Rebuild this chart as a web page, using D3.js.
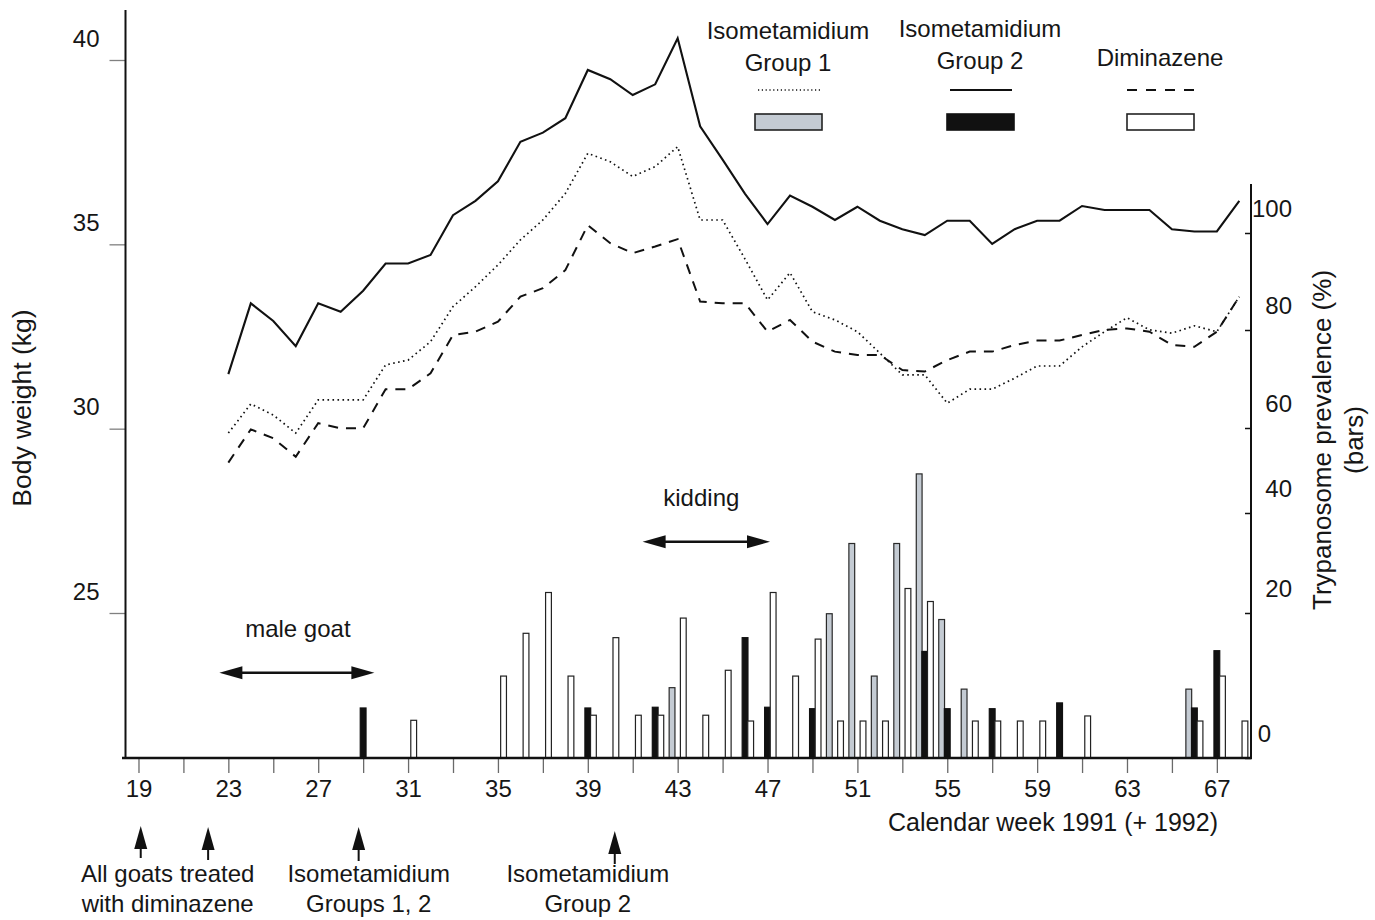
<!DOCTYPE html>
<html><head><meta charset="utf-8">
<script src="https://cdn.jsdelivr.net/npm/d3@7"></script>
<style>
body{margin:0;background:#fff}
svg{display:block}
text{font-family:"Liberation Sans",Arial,Helvetica,sans-serif;fill:#161616}
</style>
</head><body>
<svg id="chart" width="1375" height="920"></svg>
<script>
// ---------------- DATA ----------------
const lineWeeks = [23,24,25,26,27,28,29,30,31,32,33,34,35,36,37,38,39,40,41,42,43,44,45,46,47,48,49,50,51,52,53,54,55,56,57,58,59,60,61,62,63,64,65,66,67,68];
// Body weight (kg) – Isometamidium Group 1 (dotted)
const weightGroup1 = [29.88,30.67,30.37,29.88,30.78,30.78,30.78,31.73,31.86,32.36,33.31,33.85,34.44,35.12,35.66,36.38,37.47,37.24,36.84,37.11,37.65,35.66,35.66,34.6,33.49,34.23,33.17,32.95,32.63,32.05,31.46,31.46,30.69,31.07,31.07,31.37,31.70,31.70,32.22,32.63,33.01,32.68,32.59,32.79,32.63,33.58];
// Body weight (kg) – Isometamidium Group 2 (solid)
const weightGroup2 = [31.48,33.40,32.92,32.24,33.40,33.17,33.74,34.48,34.48,34.71,35.79,36.18,36.71,37.78,38.03,38.42,39.73,39.48,39.05,39.34,40.59,38.2,37.3,36.37,35.55,36.32,36.02,35.66,36.02,35.64,35.41,35.25,35.64,35.64,35.01,35.41,35.64,35.64,36.04,35.93,35.93,35.93,35.41,35.35,35.35,36.18];
// Body weight (kg) – Diminazene (dashed)
const weightDiminazene = [29.08,29.98,29.74,29.24,30.15,30.01,30.01,31.07,31.07,31.50,32.54,32.63,32.90,33.58,33.81,34.30,35.52,35.03,34.76,34.94,35.14,33.45,33.40,33.40,32.63,32.95,32.36,32.09,32.00,32.00,31.59,31.55,31.86,32.09,32.09,32.27,32.39,32.39,32.54,32.68,32.72,32.63,32.27,32.22,32.63,33.58];

// Trypanosome prevalence (%) bars: [week, value]
const barsGroup1 = [[43,9.7],[50,19.9],[51,33.9],[52,11.3],[53,33.9],[54,49.2],[55,19.1],[56,9.5],[66,9.5]];
const barsGroup2 = [[29,6.9],[39,6.9],[42,7.0],[46,16.6],[47,7.0],[49,6.8],[54,14.7],[55,6.8],[57,6.8],[60,7.6],[66,6.9],[67,14.8]];
const barsDiminazene = [[31,5.2],[35,11.3],[36,17.2],[37,24.1],[38,11.3],[39,5.9],[40,16.6],[41,5.9],[42,5.9],[43,19.3],[44,5.9],[45,12.1],[46,5.1],[47,24.1],[48,11.3],[49,16.4],[50,5.1],[51,5.1],[52,5.1],[53,24.9],[54,22.3],[56,5.1],[57,5.1],[58,5.1],[59,5.1],[61,5.8],[66,5.1],[67,11.3],[68,5.1]];

const weightTicks = [25,30,35,40];
const prevalenceTicks = [0,20,40,60,80,100];
const weekTicks = [19,21,23,25,27,29,31,33,35,37,39,41,43,45,47,49,51,53,55,57,59,61,63,65,67];
const weekLabels = [19,23,27,31,35,39,43,47,51,55,59,63,67];

const legendItems = [
  {lines:["Isometamidium","Group 1"], dash:"dot", fill:"#c4cbd3"},
  {lines:["Isometamidium","Group 2"], dash:"solid", fill:"#111111"},
  {lines:["Diminazene"], dash:"dash", fill:"#ffffff"}
];
const treatmentArrows = [19.1, 22.1, 28.8, 40.2];
const treatmentNotes = [
  {week:20.3, lines:["All goats treated","with diminazene"]},
  {week:29.25, lines:["Isometamidium","Groups 1, 2"]},
  {week:39.0, lines:["Isometamidium","Group 2"]}
];
const periods = [
  {label:"male goat", from:22.6, to:29.5},
  {label:"kidding", from:41.44, to:47.11}
];

// ---------------- SCALES ----------------
const svg = d3.select("#chart");
const x = d3.scaleLinear().domain([18.4, 68.52]).range([125, 1251]);
const yL = d3.scaleLinear().domain([25, 40]).range([613, 60]);
// right axis as drawn in the figure (tick spacing is uneven)
const yR = d3.scaleLinear().domain(prevalenceTicks).range([758, 613, 513, 428, 330, 233]);
const base = 758;

// ---------------- BARS ----------------
const barW = 5.8;
const barSeries = [
  {data:barsGroup1, off:-0.25, fill:"#c4cbd3", stroke:"#2a2a2a"},
  {data:barsGroup2, off:0, fill:"#111111", stroke:"#111111"},
  {data:barsDiminazene, off:0.25, fill:"#ffffff", stroke:"#222222"}
];
const gBars = svg.append("g");
barSeries.forEach(s => {
  gBars.selectAll(null).data(s.data).enter().append("rect")
    .attr("x", d => x(d[0] + s.off) - barW/2)
    .attr("y", d => yR(d[1]))
    .attr("width", barW)
    .attr("height", d => base - yR(d[1]))
    .attr("fill", s.fill).attr("stroke", s.stroke).attr("stroke-width", 1.2);
});

// ---------------- AXES ----------------
// left
const gL = svg.append("g").attr("transform","translate(125.5,0)")
  .call(d3.axisLeft(yL).tickValues(weightTicks).tickSize(16).tickFormat(d3.format("d")));
gL.attr("font-size",24).attr("font-family",null);
gL.select(".domain").remove();
gL.selectAll(".tick line").attr("stroke","#808080").attr("stroke-width",1.3);
gL.selectAll(".tick text").attr("x",-26).attr("dy",null).attr("y",-14).attr("text-anchor","end");
svg.append("line").attr("x1",125.5).attr("x2",125.5).attr("y1",10).attr("y2",759).attr("stroke","#111").attr("stroke-width",2);

// right
const gR = svg.append("g").attr("transform","translate(1251,0)")
  .call(d3.axisRight(yR).tickValues(prevalenceTicks).tickSize(-6).tickFormat(d3.format("d")));
gR.attr("font-size",24).attr("font-family",null);
gR.select(".domain").remove();
gR.selectAll(".tick line").attr("stroke","#111").attr("stroke-width",1.5);
gR.selectAll(".tick text").attr("x", d => d === 0 ? 20 : 41).attr("dy",null).attr("y",-17).attr("text-anchor","end");
svg.append("line").attr("x1",1251).attr("x2",1251).attr("y1",184).attr("y2",759).attr("stroke","#111").attr("stroke-width",2);

// bottom
const gB = svg.append("g").attr("transform",`translate(0,${base})`)
  .call(d3.axisBottom(x).tickValues(weekTicks).tickSize(15).tickFormat(d => weekLabels.includes(d) ? d : ""));
gB.attr("font-size",24).attr("font-family",null);
gB.select(".domain").remove();
gB.selectAll(".tick line").attr("stroke","#6a6a6a").attr("stroke-width",1.3);
gB.selectAll(".tick text").attr("dy",null).attr("y",39);
svg.append("line").attr("x1",122).attr("x2",1252).attr("y1",base).attr("y2",base).attr("stroke","#111").attr("stroke-width",2.5);

// titles
svg.append("text").attr("transform","translate(31,408) rotate(-90)").attr("text-anchor","middle")
  .attr("font-size",26.5).text("Body weight (kg)");
const tR = svg.append("text").attr("transform","translate(1331,440) rotate(-90)").attr("text-anchor","middle").attr("font-size",26);
tR.append("tspan").attr("x",0).attr("dy",0).text("Trypanosome prevalence (%)");
tR.append("tspan").attr("x",0).attr("dy",31.5).text("(bars)");
svg.append("text").attr("x",1218).attr("y",831).attr("text-anchor","end").attr("font-size",25)
  .text("Calendar week 1991 (+ 1992)");

// ---------------- LINES ----------------
const line = d3.line().x(d => x(d[0])).y(d => yL(d[1]));
const lineSeries = [
  {vals:weightGroup1, dash:"1.6,3.4", w:1.7},
  {vals:weightDiminazene, dash:"10,8", w:2},
  {vals:weightGroup2, dash:null, w:2.1}
];
lineSeries.forEach(s => {
  svg.append("path").datum(lineWeeks.map((wk,i) => [wk, s.vals[i]]))
    .attr("d", line).attr("fill","none").attr("stroke","#111")
    .attr("stroke-width", s.w).attr("stroke-dasharray", s.dash)
    .attr("stroke-linejoin","miter");
});

// ---------------- LEGEND ----------------
const legendX = [788, 980, 1160];
const legendTop = [39, 37, 66];
legendItems.forEach((it, i) => {
  const cx = legendX[i];
  const t = svg.append("text").attr("text-anchor","middle").attr("font-size",24);
  it.lines.forEach((ln, j) => t.append("tspan").attr("x", cx).attr("y", legendTop[i] + j*32).text(ln));
  const ly = 90;
  const ls = svg.append("line").attr("x1",cx-30).attr("x2",cx+32).attr("y1",ly).attr("y2",ly).attr("stroke","#111");
  if (it.dash === "dot") ls.attr("stroke-width",1.4).attr("stroke-dasharray","1.2,2.6");
  else if (it.dash === "dash") ls.attr("stroke-width",1.8).attr("stroke-dasharray","10,9").attr("x1",cx-33).attr("x2",cx+36);
  else ls.attr("stroke-width",2.2);
  svg.append("rect").attr("x",cx-33).attr("y",114).attr("width",67).attr("height",16)
    .attr("fill",it.fill).attr("stroke", it.dash==="solid" ? "#111" : "#222").attr("stroke-width",1.6);
});

// ---------------- ANNOTATIONS ----------------
function upArrow(xp, tip, bottom){
  svg.append("line").attr("x1",xp).attr("x2",xp).attr("y1",tip+18).attr("y2",bottom).attr("stroke","#111").attr("stroke-width",2);
  svg.append("path").attr("d",`M${xp},${tip} L${xp-6.5},${tip+23} L${xp+6.5},${tip+23} Z`).attr("fill","#111");
}
treatmentArrows.forEach((wk,i) => upArrow(x(wk), [826,827,827,831][i], [858,860,861,864][i]));
treatmentNotes.forEach(n => {
  const t = svg.append("text").attr("text-anchor","middle").attr("font-size",24);
  n.lines.forEach((ln,j) => t.append("tspan").attr("x", x(n.week)).attr("y", 882 + j*30).text(ln));
});
function doubleArrow(x1, x2, y){
  svg.append("line").attr("x1",x1+15).attr("x2",x2-15).attr("y1",y).attr("y2",y).attr("stroke","#111").attr("stroke-width",2.6);
  svg.append("path").attr("d",`M${x1},${y} L${x1+23},${y-6.5} L${x1+23},${y+6.5} Z`).attr("fill","#111");
  svg.append("path").attr("d",`M${x2},${y} L${x2-23},${y-6.5} L${x2-23},${y+6.5} Z`).attr("fill","#111");
}
const periodY = [672.7, 541.7];
const periodTextY = [637, 506];
periods.forEach((p,i) => {
  const a = x(p.from), b = x(p.to);
  doubleArrow(a, b, periodY[i]);
  svg.append("text").attr("x",(a+b)/2 + (i===0?1:-5)).attr("y",periodTextY[i]).attr("text-anchor","middle").attr("font-size",24).text(p.label);
});
</script>
</body></html>
